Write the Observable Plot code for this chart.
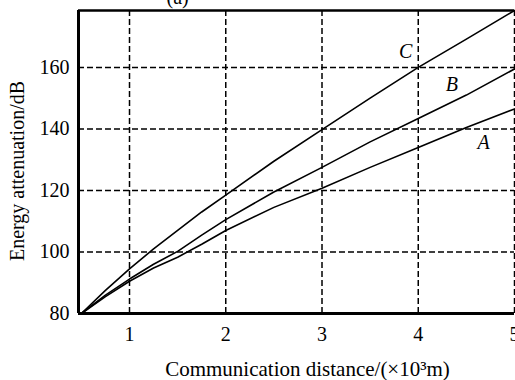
<!DOCTYPE html>
<html>
<head>
<meta charset="utf-8">
<script src="https://cdn.jsdelivr.net/npm/d3@7"></script>
<script src="https://cdn.jsdelivr.net/npm/@observablehq/plot@0.6"></script>
<style>
  html, body { margin: 0; padding: 0; background: #fff; }
  svg { display: block; }
</style>
</head>
<body>
<div id="chart"></div>
<script>
const distance = [0.5, 0.75, 1, 1.25, 1.5, 1.75, 2, 2.5, 3, 3.5, 4, 4.5, 5];
const seriesA = [80, 85.5, 90.5, 94.8, 98.3, 102.5, 107, 114.5, 120.7, 127.5, 134, 140.5, 146.5];
const seriesB = [80, 86, 91.2, 96, 100.2, 105.5, 110.5, 119.5, 127.5, 135.8, 143.4, 151, 159.5];
const seriesC = [80, 87.5, 94.5, 101, 107, 113, 118.5, 129.5, 139.8, 150, 160, 169.2, 178.5];
const seriesNames = ["A", "B", "C"];
const labelX = [4.68, 4.35, 3.87];
const labelY = [135.5, 154.5, 165];
const xTicks = [1, 2, 3, 4, 5];
const yTicks = [80, 100, 120, 140, 160];
const xDomain = [0.47, 5];
const yDomain = [80, 178.5];
const xTitle = "Communication distance/(×10³m)";
const yTitle = "Energy attenuation/dB";
const panelTitle = ["(a)"];
const panelTitleX = [1.5];

const allSeries = [seriesA, seriesB, seriesC];
const rows = allSeries.flatMap((vals, k) => distance.map((d, i) => ({name: seriesNames[k], x: d, y: vals[i]})));
const labels = seriesNames.map((n, i) => ({name: n, x: labelX[i], y: labelY[i]}));

const font = "'Liberation Serif', 'Times New Roman', serif";
const dash = "6,3";

const chart = Plot.plot({
  width: 515,
  height: 380,
  marginLeft: 78,
  marginRight: 1,
  marginTop: 10,
  marginBottom: 67,
  style: {fontFamily: font, fontSize: "20px", color: "#000", background: "#fff"},
  x: {domain: xDomain, ticks: xTicks},
  y: {domain: yDomain, ticks: yTicks},
  marks: [
    Plot.gridX(xTicks, {stroke: "#000", strokeOpacity: 1, strokeWidth: 1.5, strokeDasharray: dash}),
    Plot.gridY(yTicks, {stroke: "#000", strokeOpacity: 1, strokeWidth: 1.5, strokeDasharray: dash}),
    Plot.axisX(xTicks, {tickSize: 0, tickPadding: 13, fontSize: 20, fontFamily: font, label: null}),
    Plot.axisY(yTicks, {tickSize: 0, tickPadding: 9, fontSize: 20, fontFamily: font, label: null}),
    Plot.ruleX([xDomain[0]], {stroke: "#000", strokeWidth: 3}),
    Plot.ruleY([yDomain[0]], {stroke: "#000", strokeWidth: 3}),
    Plot.ruleY([yDomain[1]], {stroke: "#000", strokeWidth: 2.5}),
    Plot.line(rows, {x: "x", y: "y", z: "name", stroke: "#000", strokeWidth: 1.6}),
    Plot.text(labels, {x: "x", y: "y", text: "name", fontStyle: "italic", fontSize: 20, fontFamily: font, fill: "#000"}),
    Plot.text([xTitle], {frameAnchor: "bottom", lineAnchor: "bottom", dx: 11, dy: 62, fontSize: 21, fontFamily: font, fill: "#000"}),
    Plot.text([yTitle], {frameAnchor: "left", textAnchor: "middle", rotate: -90, dx: -61, dy: 9, fontSize: 20, fontFamily: font, fill: "#000"}),
    Plot.text(panelTitle, {x: panelTitleX, frameAnchor: "top", lineAnchor: "bottom", dy: -7, fontSize: 20, fontFamily: font, fill: "#000"})
  ]
});
document.getElementById("chart").appendChild(chart);
</script>
</body>
</html>
